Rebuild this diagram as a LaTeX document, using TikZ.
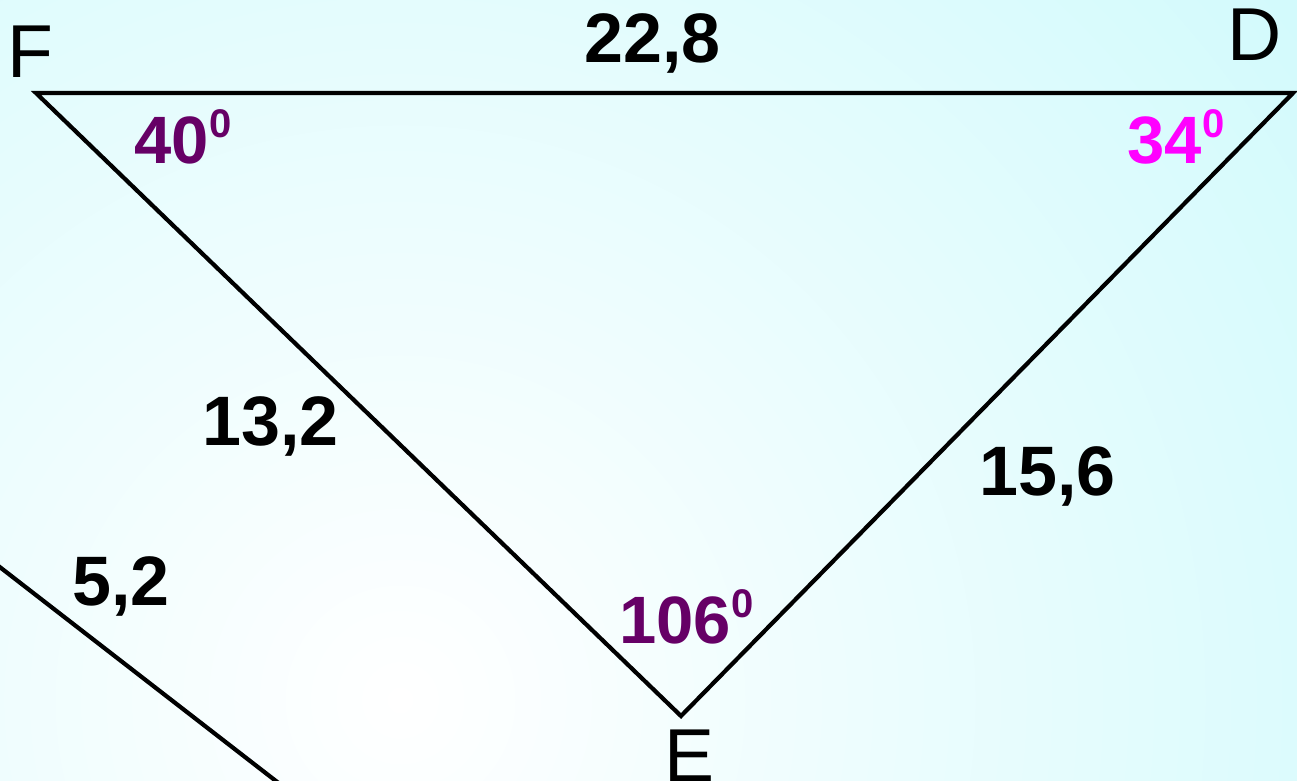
\documentclass[tikz,border=0pt]{standalone}
\usepackage{fontspec}
\setmainfont{Liberation Sans}
\usepackage{tikz}
\definecolor{MoradoAngulo}{RGB}{102,0,102}
\definecolor{MagentaAngulo}{RGB}{255,0,255}
\definecolor{CianFondo}{RGB}{210,250,252}
\newcommand{\gradsup}{\hspace{1pt}\raisebox{26pt}{\fontsize{40}{48}\selectfont 0}}

\begin{document}
\begin{tikzpicture}[x=1pt,y=-1pt,
  lado/.style={font=\fontsize{70}{84}\selectfont\bfseries,inner sep=0pt,anchor=base west},
  angulo/.style={font=\fontsize{67}{80}\selectfont\bfseries,inner sep=0pt,anchor=base west},
  vertice/.style={font=\fontsize{75}{90}\selectfont,inner sep=0pt,anchor=base}]
  \useasboundingbox (0,0) rectangle (1297,780);
  \begin{scope}
    \clip (0,0) rectangle (1297,780);
    \fill[CianFondo] (0,0) rectangle (1297,780);
    \shade[inner color=white,outer color=CianFondo] (400,700) circle (1150pt);
  \end{scope}
  \coordinate (F) at (36,93);
  \coordinate (D) at (1293,93);
  \coordinate (E) at (681,716);
  \coordinate (r1) at (-8,561);
  \coordinate (r2) at (285,788);
  \draw[line width=4.2pt] (F)--(D)--(E)--cycle;
  \draw[line width=4.2pt] (r1)--(r2);
  \node[vertice] (nF) at (30,77) {F};
  \node[vertice] (nD) at (1255,60) {D};
  \node[vertice] (nE) at (690,781) {E};
  \node[lado] (lFD) at (584,62) {22,8};
  \node[lado] (lFE) at (202,445) {13,2};
  \node[lado] (lDE) at (979,495) {15,6};
  \node[lado] (lr) at (72,605) {5,2};
  \node[angulo,MoradoAngulo] (aF) at (134,163) {40\gradsup};
  \node[angulo,MagentaAngulo] (aD) at (1127,163) {34\gradsup};
  \node[angulo,MoradoAngulo] (aE) at (619,643) {106\gradsup};
\end{tikzpicture}
\end{document}
